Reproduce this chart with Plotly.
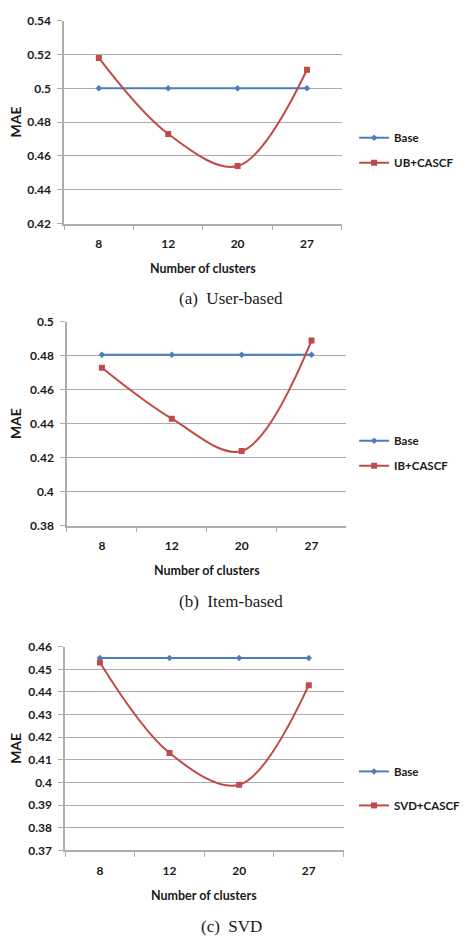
import plotly.graph_objects as go

clusters = ["8", "12", "20", "27"]

base_a = [0.5, 0.5, 0.5, 0.5]
ub_cascf = [0.518, 0.473, 0.454, 0.511]

base_b = [0.4806, 0.4806, 0.4806, 0.4806]
ib_cascf = [0.473, 0.443, 0.424, 0.489]

base_c = [0.455, 0.455, 0.455, 0.455]
svd_cascf = [0.453, 0.413, 0.399, 0.443]

panels = [
    dict(base=base_a, method=ub_cascf, name="UB+CASCF", caption="(a)  User-based",
         yrange=[0.42, 0.54], dtick=0.02,
         xdom=[67/466, 357/466], ytop=13, ybot=219, leg_y=117, gap=6, xcap=241, ycap=295),
    dict(base=base_b, method=ib_cascf, name="IB+CASCF", caption="(b)  Item-based",
         yrange=[0.38, 0.50], dtick=0.02,
         xdom=[70/466, 362/466], ytop=319, ybot=526, leg_y=425, gap=6, xcap=241, ycap=603),
    dict(base=base_c, method=svd_cascf, name="SVD+CASCF", caption="(c)  SVD",
         yrange=[0.37, 0.46], dtick=0.01,
         xdom=[68/466, 359/466], ytop=649, ybot=856, leg_y=761, gap=15, xcap=242, ycap=933),
]

W, H = 466, 945
BLUE = "#4A7EBB"
RED = "#BE4B48"
GRID = "#ADADAD"
FONT = "Lato"
TXT = "#1a1a1a"

fig = go.Figure()
layout = dict(width=W, height=H, autosize=False, margin=dict(l=0, r=0, t=0, b=0),
              paper_bgcolor="white", plot_bgcolor="white", showlegend=True)
annotations = []

for i, p in enumerate(panels):
    k = "" if i == 0 else str(i + 1)
    xa, ya = "x" + k, "y" + k
    leg = "legend" + k
    fig.add_trace(go.Scatter(x=clusters, y=p["base"], name="Base", mode="lines+markers",
                             line=dict(color=BLUE, width=2),
                             marker=dict(symbol="diamond", size=5, color=BLUE),
                             xaxis=xa, yaxis=ya, legend=leg, legendgroup="b" + k))
    fig.add_trace(go.Scatter(x=clusters, y=p["method"], name=p["name"], mode="lines+markers",
                             line=dict(color=RED, width=2, shape="spline", smoothing=1.0),
                             marker=dict(symbol="square", size=6, color=RED),
                             xaxis=xa, yaxis=ya, legend=leg, legendgroup="m" + k))
    ydom = [1 - p["ybot"] / H, 1 - p["ytop"] / H]
    layout["xaxis" + k] = dict(domain=p["xdom"], anchor=ya, type="category",
                               range=[-0.5, 3.5], tickson="boundaries",
                               ticks="outside", ticklen=5, tickcolor=GRID, tickwidth=1,
                               showline=True, linecolor=GRID, linewidth=1.5,
                               showgrid=False, zeroline=False, ticklabelstandoff=8,
                               tickfont=dict(family=FONT, size=12, color=TXT, weight="bold"))
    layout["yaxis" + k] = dict(domain=ydom, anchor=xa, range=p["yrange"], dtick=p["dtick"],
                               tick0=p["yrange"][0],
                               ticks="outside", ticklen=5, tickcolor=GRID, tickwidth=1,
                               showline=True, linecolor=GRID, linewidth=1.5,
                               showgrid=True, gridcolor=GRID, gridwidth=1.2,
                               zeroline=False, ticklabelstandoff=4,
                               tickfont=dict(family=FONT, size=12, color=TXT, weight="bold"))
    layout[leg] = dict(x=370 / W, xanchor="left", y=1 - p["leg_y"] / H, yanchor="top",
                       bgcolor="rgba(0,0,0,0)", traceorder="grouped", tracegroupgap=p["gap"],
                       font=dict(family=FONT, size=11.5, color=TXT, weight="bold"),
                       itemclick=False)
    ymid = (p["ytop"] + p["ybot"]) / 2
    xmid = (p["xdom"][0] + p["xdom"][1]) / 2
    annotations.append(dict(text="MAE", x=16 / W, y=1 - ymid / H, xref="paper", yref="paper",
                            showarrow=False, textangle=-90, xanchor="center", yanchor="middle",
                            font=dict(family=FONT, size=14, color=TXT, weight="bold")))
    annotations.append(dict(text="Number of clusters", x=xmid, y=1 - (p["ybot"] + 46) / H,
                            xref="paper", yref="paper", showarrow=False,
                            xanchor="center", yanchor="middle",
                            font=dict(family=FONT, size=12.5, color=TXT, weight="bold")))
    annotations.append(dict(text=p["caption"], x=p["xcap"] / W, y=1 - p["ycap"] / H,
                            xref="paper", yref="paper", showarrow=False,
                            xanchor="center", yanchor="middle",
                            font=dict(family="Liberation Serif", size=17, color=TXT)))

layout["annotations"] = annotations
fig.update_layout(**layout)
fig.write_html("out.html", config={"displayModeBar": False},
               post_script="document.body.style.margin='0';document.body.style.padding='0';"
                           "document.documentElement.style.overflow='hidden';")
